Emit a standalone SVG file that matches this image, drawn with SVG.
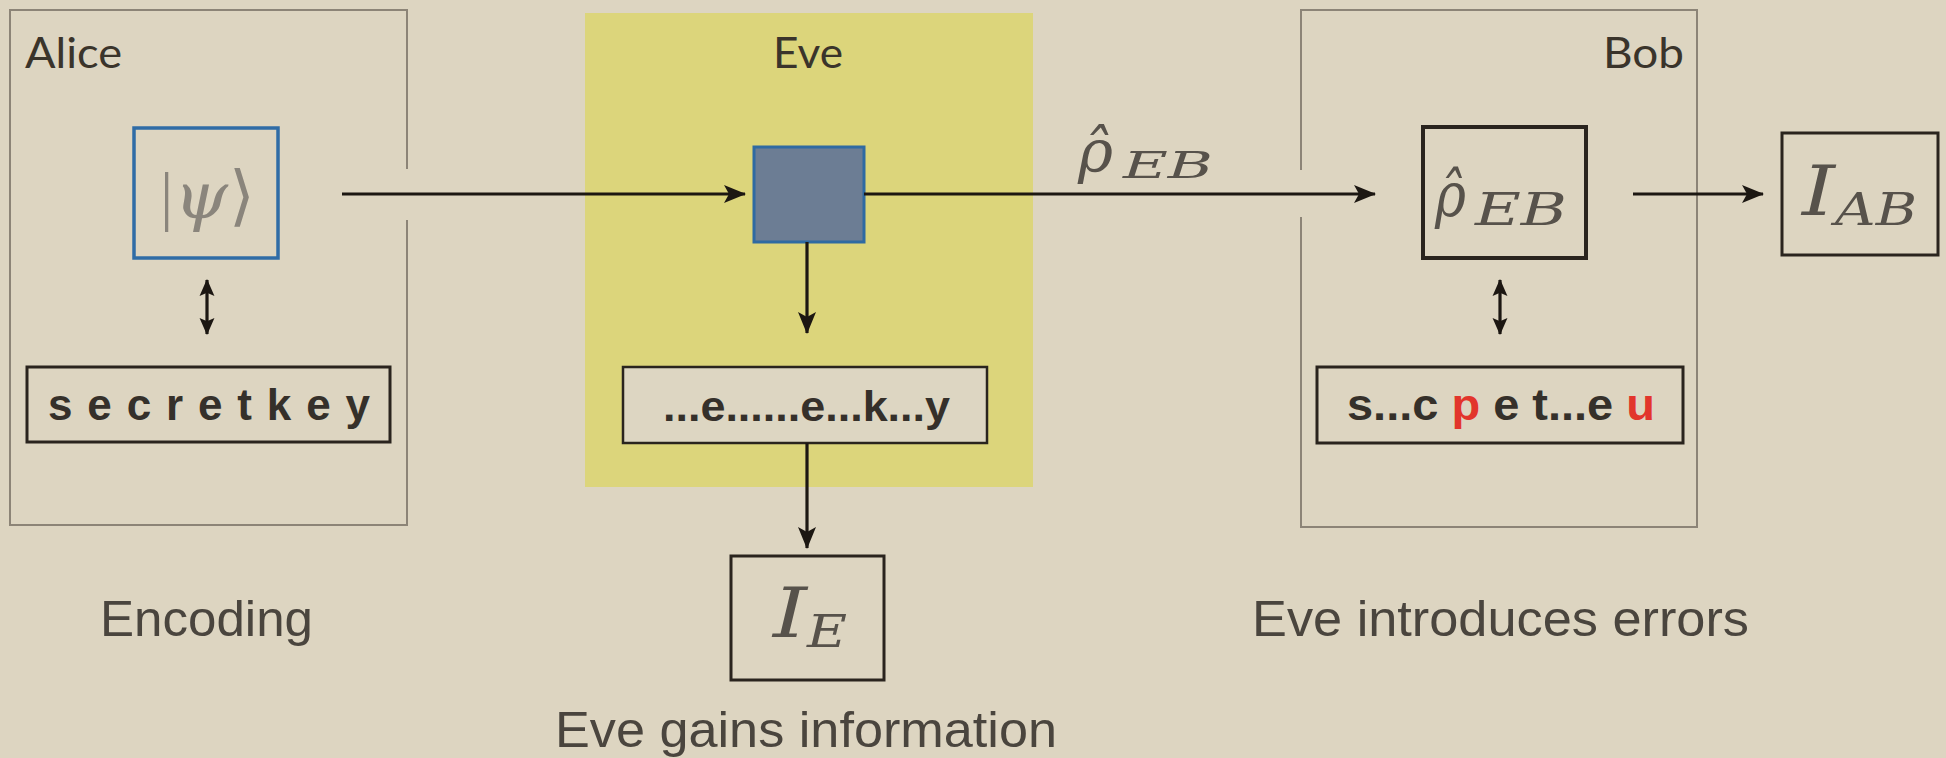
<svg xmlns="http://www.w3.org/2000/svg" width="1946" height="758" viewBox="0 0 1946 758">
<defs>
<style>
.frame{fill:none;stroke:#8c8477;stroke-width:2}
.box{fill:none;stroke:#2a241e;stroke-width:3}
.conn{fill:none;stroke:#1c1712;stroke-width:3.2}
.lbl{font-family:Lato,"Open Sans",sans-serif;font-size:43px;fill:#3a342b}
.cap{font-family:"Liberation Sans",Arial,sans-serif;font-size:50px;fill:#4a453e}
.key{font-family:"Liberation Sans",Arial,sans-serif;font-weight:bold;fill:#35302a}
.math{font-family:"DejaVu Serif","Liberation Serif",serif;font-style:italic;font-weight:normal;fill:#57524b}
.up{font-style:normal}
.red{fill:#e2352c}
</style>
<marker id="ah" viewBox="0 0 22 20" refX="21" refY="10" markerWidth="22" markerHeight="20" markerUnits="userSpaceOnUse" orient="auto">
<path d="M0,1 L22,10 L0,19 L5,10 z" fill="#1c1712"/>
</marker>
<marker id="ahs" viewBox="0 0 16 16" refX="15" refY="8" markerWidth="17" markerHeight="17" markerUnits="userSpaceOnUse" orient="auto-start-reverse">
<path d="M0,1 L16,8 L0,15 L3,8 z" fill="#1c1712"/>
</marker>
</defs>
<rect x="0" y="0" width="1946" height="758" fill="#ddd5c1"/>

<g id="alice">
<path class="frame" d="M407,169 V10 H10 V525 H407 V220"/>
<text class="lbl" x="25" y="68" textLength="97" lengthAdjust="spacingAndGlyphs">Alice</text>
</g>

<g id="eve">
<rect x="585" y="13" width="448" height="474" fill="#dcd57b"/>
<text class="lbl" x="773" y="68" textLength="70" lengthAdjust="spacingAndGlyphs">Eve</text>
</g>

<g id="bob">
<path class="frame" d="M1301,170 V10 H1697 V527 H1301 V217"/>
<text class="lbl" x="1603" y="68" textLength="81" lengthAdjust="spacingAndGlyphs">Bob</text>
</g>

<g id="psi">
<rect x="134" y="128" width="144" height="130" fill="none" stroke="#2f6ca6" stroke-width="3.5"/>
<text class="math" y="218" font-size="66" style="fill:#8a857c"><tspan class="up" x="160" font-family="Liberation Serif">|</tspan><tspan x="174" textLength="54" lengthAdjust="spacingAndGlyphs">ψ</tspan><tspan class="up" x="229" font-family="Liberation Serif">⟩</tspan></text>
</g>

<g id="alice-key">
<rect class="box" x="27" y="367" width="363" height="75" stroke-width="2.5"/>
<text class="key" x="48" y="420" font-size="44" textLength="322" lengthAdjust="spacing">secretkey</text>
</g>

<g id="eve-box">
<rect x="754" y="147" width="110" height="95" fill="#6c7d94" stroke="#2f6aa2" stroke-width="3"/>
</g>

<g id="eve-key">
<rect x="623" y="367" width="364" height="76" fill="#ddd6c2" stroke="#2a241e" stroke-width="2.5"/>
<text class="key" x="663" y="421" font-size="42" textLength="287" lengthAdjust="spacingAndGlyphs">...e......e...k...y</text>
</g>

<g id="ie">
<rect class="box" x="731" y="556" width="153" height="124"/>
<text class="math" font-family="Liberation Serif"><tspan x="773" y="637" font-size="70" textLength="34" lengthAdjust="spacingAndGlyphs">I</tspan><tspan x="807" y="647" font-size="45" textLength="40" lengthAdjust="spacingAndGlyphs">E</tspan></text>
</g>

<g id="rho-box">
<rect x="1423" y="127" width="163" height="131" fill="none" stroke="#2a241e" stroke-width="4"/>
<text class="math" font-family="Liberation Serif"><tspan x="1435" y="216" font-size="62" textLength="31" lengthAdjust="spacingAndGlyphs">ρ̂</tspan><tspan x="1475" y="225" font-size="45" textLength="92" lengthAdjust="spacingAndGlyphs">EB</tspan></text>
</g>

<g id="iab">
<rect class="box" x="1782" y="133" width="156" height="122"/>
<text class="math" font-family="Liberation Serif"><tspan x="1802" y="215" font-size="70" textLength="33" lengthAdjust="spacingAndGlyphs">I</tspan><tspan x="1835" y="225" font-size="45" textLength="82" lengthAdjust="spacingAndGlyphs">AB</tspan></text>
</g>

<g id="bob-key">
<rect class="box" x="1317" y="367" width="366" height="76" stroke-width="2.5"/>
<text class="key" x="1347" y="420" font-size="44" textLength="308" lengthAdjust="spacingAndGlyphs">s...c <tspan class="red">p</tspan> e t...e <tspan class="red">u</tspan></text>
</g>

<g id="captions">
<text class="cap" x="100" y="636" textLength="213" lengthAdjust="spacingAndGlyphs">Encoding</text>
<text class="cap" x="555" y="747" textLength="502" lengthAdjust="spacingAndGlyphs">Eve gains information</text>
<text class="cap" x="1252" y="636" textLength="497" lengthAdjust="spacingAndGlyphs">Eve introduces errors</text>
</g>

<g id="connectors">
<line class="conn" x1="342" y1="194" x2="745" y2="194" marker-end="url(#ah)"/>
<line class="conn" x1="864" y1="194" x2="1375" y2="194" marker-end="url(#ah)"/>
<line class="conn" x1="1633" y1="194" x2="1763" y2="194" marker-end="url(#ah)"/>
<line class="conn" x1="807" y1="242" x2="807" y2="333" marker-end="url(#ah)"/>
<line class="conn" x1="807" y1="443" x2="807" y2="548" marker-end="url(#ah)"/>
<line class="conn" x1="207" y1="280" x2="207" y2="334" marker-start="url(#ahs)" marker-end="url(#ahs)"/>
<line class="conn" x1="1500" y1="280" x2="1500" y2="334" marker-start="url(#ahs)" marker-end="url(#ahs)"/>
<g id="channel-label">
<text class="math" font-family="Liberation Serif"><tspan x="1078" y="172" font-size="60" textLength="35" lengthAdjust="spacingAndGlyphs">ρ̂</tspan><tspan x="1123" y="178" font-size="38" textLength="90" lengthAdjust="spacingAndGlyphs">EB</tspan></text>
</g>
</g>
</svg>
